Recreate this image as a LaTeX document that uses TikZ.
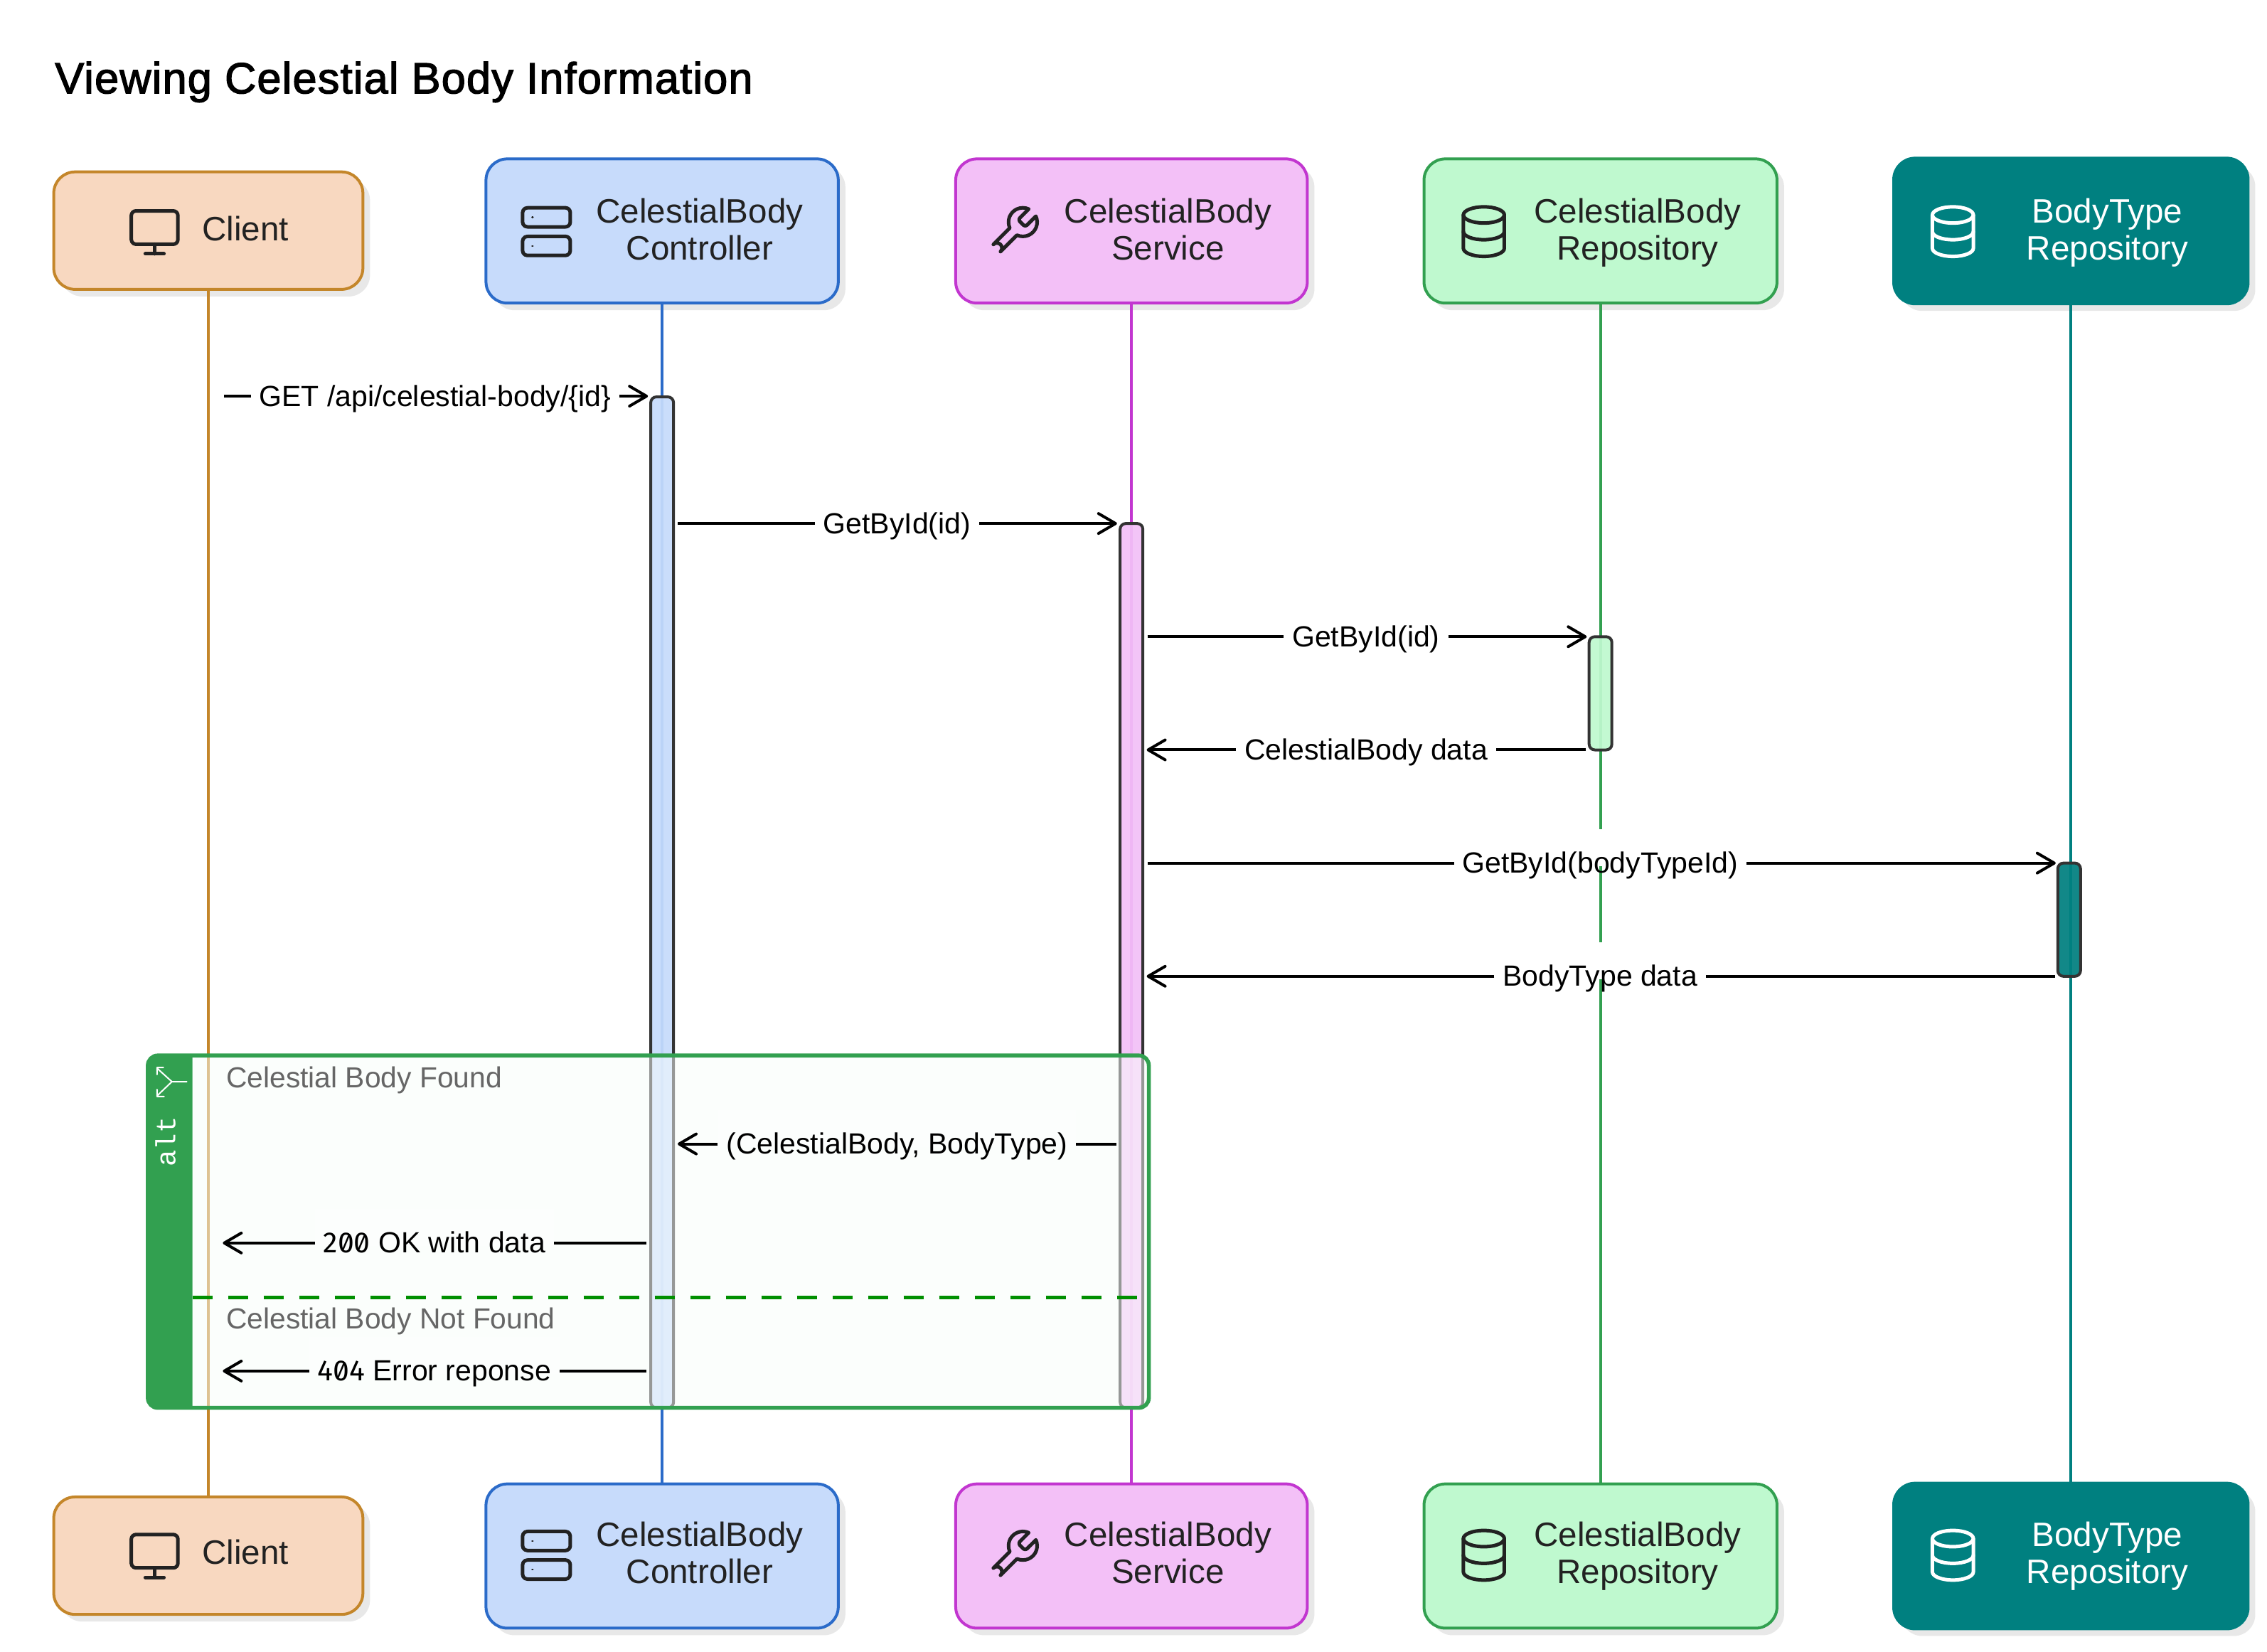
\documentclass[tikz,border=0pt]{standalone}
\usepackage{fontspec}
\setmainfont{Liberation Sans}
\newfontfamily\titlef[FakeBold=2.2,LetterSpace=2]{Liberation Sans}
\newfontfamily\numf[RawFeature=+zero]{Fira Sans}
\newfontfamily\altf{Liberation Mono}
\usetikzlibrary{arrows.meta,shadows,svg.path,positioning}
\definecolor{cliF}{HTML}{F8D8C0}\definecolor{cliS}{HTML}{C4862A}
\definecolor{ctlF}{HTML}{C7DBFB}\definecolor{ctlS}{HTML}{2B6BC9}
\definecolor{svcF}{HTML}{F3C0F7}\definecolor{svcS}{HTML}{C236D0}
\definecolor{repF}{HTML}{BFF9CF}\definecolor{repS}{HTML}{32A050}
\definecolor{bodF}{HTML}{008080}
\definecolor{shad}{HTML}{E8E8E8}
\definecolor{inkc}{HTML}{222222}
\definecolor{altg}{HTML}{32A050}
\definecolor{dashg}{HTML}{008F00}
\definecolor{frameF}{HTML}{F9FEFB}
\definecolor{innerF}{HTML}{FCFEFD}
\tikzset{
  actor/.style={draw,rounded corners=7.5pt,line width=1pt,minimum width=#1*0.2487pt,inner sep=0pt,outer sep=0pt,
    general shadow={fill=shad,shadow xshift=2.5pt,shadow yshift=-2.5pt}},
  cli/.style={actor=437,fill=cliF,draw=cliS,minimum height=41.3pt},
  ctl/.style={actor=498,fill=ctlF,draw=ctlS,minimum height=50.7pt},
  svc/.style={actor=497,fill=svcF,draw=svcS,minimum height=50.7pt},
  rep/.style={actor=499,fill=repF,draw=repS,minimum height=50.7pt},
  bod/.style={actor=501,fill=bodF,draw=bodF,minimum height=51.2pt},
  atext/.style={align=center,text=inkc,font=\fontsize{11.9}{13}\selectfont,inner sep=0pt,anchor=base},
  life/.style={line width=1.1pt},
  actbox/.style={draw=black!80,line width=1pt,rounded corners=2pt,minimum width=8pt,inner sep=0pt,outer sep=0pt,anchor=north,fill opacity=.93,draw opacity=1},
  msg/.style={line width=1pt,draw=black},
  tipped/.style={msg,-{Straight Barb[length=6pt,width=7pt,round]}},
  mlabel/.style={fill=white,anchor=south,inner xsep=3pt,inner ysep=0pt,outer sep=0pt,font=\fontsize{10.25}{12}\selectfont,text=black},
  seclabel/.style={anchor=west,inner sep=0pt,text=black!60,font=\fontsize{10.2}{12}\selectfont},
  icon/.style={line width=1.25pt,line cap=round,line join=round},
}
\newcommand{\mtext}[1]{\raisebox{-3.5pt}[12pt][1pt]{#1}}
\newcommand{\iconMonitor}[3]{\begin{scope}[shift={(#1,#2)},xscale=.82,yscale=-.838]
 \draw[icon,draw=#3] svg {M4 3 H20 A2 2 0 0 1 22 5 V15 A2 2 0 0 1 20 17 H4 A2 2 0 0 1 2 15 V5 A2 2 0 0 1 4 3 Z};
 \draw[icon,draw=#3] svg {M8 21 H16 M12 17 V21};\end{scope}}
\newcommand{\iconServer}[3]{\begin{scope}[shift={(#1,#2)},xscale=.838,yscale=-.838]
 \draw[icon,draw=#3] svg {M4 2 H20 A2 2 0 0 1 22 4 V8 A2 2 0 0 1 20 10 H4 A2 2 0 0 1 2 8 V4 A2 2 0 0 1 4 2 Z};
 \draw[icon,draw=#3] svg {M4 14 H20 A2 2 0 0 1 22 16 V20 A2 2 0 0 1 20 22 H4 A2 2 0 0 1 2 20 V16 A2 2 0 0 1 4 14 Z};
 \draw[icon,draw=#3,line width=.6pt] svg {M6 6 H6.3 M6 18 H6.3};\end{scope}}
\newcommand{\iconWrench}[3]{\begin{scope}[shift={(#1,#2)},xscale=.838,yscale=-.838]
 \draw[icon,draw=#3] svg {M14.7 6.3 a1 1 0 0 0 0 1.4 l1.6 1.6 a1 1 0 0 0 1.4 0 l3.77 -3.77 a6 6 0 0 1 -7.94 7.94 l-6.91 6.91 a2.12 2.12 0 0 1 -3 -3 l6.91 -6.91 a6 6 0 0 1 7.94 -7.94 l-3.76 3.76 z};\end{scope}}
\newcommand{\iconDb}[3]{\begin{scope}[shift={(#1,#2)},xscale=.8,yscale=-.838]
 \draw[icon,draw=#3] svg {M3 5 A9 3.4 0 1 0 21 5 A9 3.4 0 1 0 3 5 Z};
 \draw[icon,draw=#3] svg {M3 5 V19 A9 3.4 0 0 0 21 19 V5};
 \draw[icon,draw=#3] svg {M3 12 A9 3.4 0 0 0 21 12};\end{scope}}
% name, y, xfrom, xto, xmid, text
\newcommand{\msgR}[6]{%
 \coordinate (#1a) at (#3,#2); \coordinate (#1b) at (#4,#2);
 \node[mlabel] (#1) at (#5,#2+4) {\mtext{#6}};
 \draw[msg] (#1a) -- (#1a -| #1.west);
 \draw[tipped] (#1b -| #1.east) -- (#1b);}
\newcommand{\msgL}[6]{%
 \coordinate (#1a) at (#3,#2); \coordinate (#1b) at (#4,#2);
 \node[mlabel] (#1) at (#5,#2+4) {\mtext{#6}};
 \draw[msg] (#1a) -- (#1a -| #1.east);
 \draw[tipped] (#1b -| #1.west) -- (#1b);}
\begin{document}
\begin{tikzpicture}[x=0.2487pt,y=-0.2487pt]
\path[use as bounding box,fill=white] (0,0) rectangle (3204.7,2334.2);
\node[anchor=west,inner sep=0pt,text=black,font=\titlef\fontsize{15.3}{18}\selectfont] (title) at (77,116) {Viewing Celestial Body Information};
% actors
\node[cli] (cliT) at (294.5,326) {};
\node[ctl] (ctlT) at (936,326.5) {};
\node[svc] (svcT) at (1599.5,326.5) {};
\node[rep] (repT) at (2262.5,326.5) {};
\node[bod] (bodT) at (2927.5,326.5) {};
\node[cli] (cliB) at (294.5,2199) {};
\node[ctl] (ctlB) at (936,2199.5) {};
\node[svc] (svcB) at (1599.5,2199.5) {};
\node[rep] (repB) at (2262.5,2199.5) {};
\node[bod] (bodB) at (2927.5,2199.5) {};
% lifelines
\draw[life,draw=cliS] (cliT.south) -- (cliB.north);
\draw[life,draw=ctlS] (ctlT.south) -- (ctlB.north);
\draw[life,draw=svcS] (svcT.south) -- (svcB.north);
\draw[life,draw=repS] (repT.south) -- (repB.north);
\draw[life,draw=bodF] (bodT.south) -- (bodB.north);
% activations
\node[actbox,fill=ctlF,minimum height=355.4pt] (actCtl) at (936,561) {};
\node[actbox,fill=svcF,minimum height=310.9pt] (actSvc) at (1599.5,740) {};
\node[actbox,fill=repF,minimum height=39.8pt] (actRep) at (2262.5,900) {};
\node[actbox,fill=bodF,minimum height=39.8pt] (actBod) at (2925,1220) {};
% actor texts and icons
\foreach \dy in {0,1871}{
 \node[atext] at (347,340+\dy) {Client};
 \node[atext] at (989,367+\dy) {CelestialBody\\Controller};
 \node[atext] at (1651,367+\dy) {CelestialBody\\Service};
 \node[atext] at (2315,367+\dy) {CelestialBody\\Repository};
 \node[atext,text=white] at (2979,367+\dy) {BodyType\\Repository};
 \iconMonitor{179}{288+\dy}{inkc}
 \iconServer{732}{287+\dy}{inkc}
 \iconWrench{1392}{287+\dy}{inkc}
 \iconDb{2059}{287+\dy}{inkc}
 \iconDb{2722}{287+\dy}{white}
}
% messages above frame
\msgR{m1}{560}{317}{916}{615}{GET /api/celestial-body/\{id\}}
\msgR{m2}{740}{958}{1579}{1268}{GetById(id)}
\msgR{m3}{900}{1622}{2243}{1931}{GetById(id)}
\msgL{m4}{1060}{2242}{1621}{1931}{CelestialBody data}
\msgR{m5}{1220}{1622}{2906}{2262}{GetById(bodyTypeId)}
\msgL{m6}{1380}{2905}{1621}{2262}{BodyType data}
% alt frame
\fill[frameF,fill opacity=.5,rounded corners=3.5pt] (272,1492) rectangle (1624,1990);
\draw[altg,line width=1.4pt,rounded corners=3.5pt] (209,1492) rectangle (1624,1990);
\fill[altg] (272,1492) [rounded corners=3.5pt] -- (209,1492) -- (209,1990) [sharp corners] -- (272,1990) -- cycle;
\draw[dashg,line width=1.1pt,dash pattern=on 7pt off 5.5pt] (272,1834) -- (1612,1834);
\node[anchor=center,rotate=90,inner sep=0pt,text=white,font=\altf\fontsize{9.75}{11}\selectfont] (altlabel) at (234,1614) {alt};
\draw[white,line width=.5pt,line cap=round,line join=round]
  (264,1529) -- (243,1529) -- (222,1510) (243,1529) -- (222,1549)
  (231,1509) -- (222,1509) -- (222,1519) (222,1540) -- (222,1550) -- (232,1550);
\node[seclabel] (sec1) at (319,1527) {Celestial Body Found};
\node[seclabel] (sec2) at (319,1868) {Celestial Body Not Found};
\tikzset{mlabel/.append style={fill=innerF}}
\msgL{m7}{1617}{1578}{958}{1268}{(CelestialBody, BodyType)}
\msgL{m8}{1757}{914}{315}{614}{{\numf 200} OK with data}
\msgL{m9}{1938}{914}{315}{614}{{\numf 404} Error reponse}
\end{tikzpicture}
\end{document}
